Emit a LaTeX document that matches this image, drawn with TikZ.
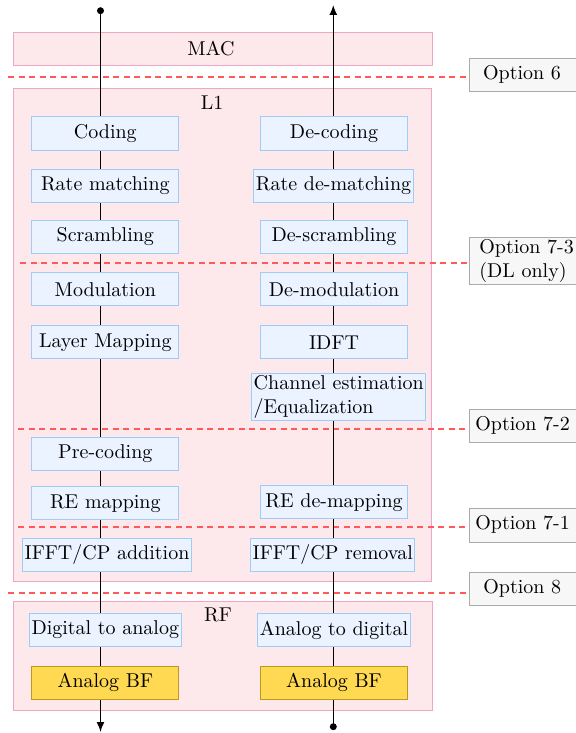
\documentclass[tikz,border=0pt]{standalone}
\usetikzlibrary{arrows.meta}
\definecolor{layerfill}{HTML}{FDE8EC}
\definecolor{layerline}{HTML}{EEA6C6}
\definecolor{blkfill}{HTML}{EAF3FF}
\definecolor{blkline}{HTML}{9ECCF6}
\definecolor{bffill}{HTML}{FFD952}
\definecolor{bfline}{HTML}{BE991C}
\definecolor{optfill}{HTML}{F7F7F7}
\definecolor{optline}{HTML}{ABABAB}
\definecolor{splitline}{HTML}{FF5A5A}
\tikzset{
  layerbox/.style={draw=layerline, fill=layerfill, line width=0.5pt, rectangle, inner sep=0pt},
  blk/.style={draw=blkline, fill=blkfill, line width=0.5pt, rectangle, inner sep=1pt,
              minimum width=73.5pt, minimum height=16.5pt, align=left},
  bfblk/.style={draw=bfline, fill=bffill, line width=0.5pt, rectangle,
              minimum width=73.5pt, minimum height=16.5pt},
  optbox/.style={draw=optline, fill=optfill, line width=0.5pt, rectangle, inner sep=0pt},
  opttext/.style={anchor=west, inner sep=0pt, align=left},
  split/.style={draw=splitline, dash pattern=on 3pt off 2.25pt, line width=1pt},
  flow/.style={draw=black, line width=0.75pt},
  dotend/.style={fill=black, circle, inner sep=0pt, minimum size=3.5pt},
}
\begin{document}
\begin{tikzpicture}[x=0.5pt, y=-0.5pt]
\useasboundingbox (0,0) rectangle (576,733);

% protocol layers
\node[layerbox, minimum width=209.5pt, minimum height=16.5pt] (mac) at (222.75,48.8) {};
\node (maclbl) at (211,48.8) {MAC};
\node[layerbox, minimum width=209pt, minimum height=246.7pt] (l1) at (222.5,335) {};
\node (l1lbl) at (212,103) {L1};
\node[layerbox, minimum width=209.5pt, minimum height=54.2pt] (rf) at (222.75,655.8) {};
\node (rflbl) at (218,614.5) {RF};

% split option labels
\node[optbox, minimum width=65pt, minimum height=16.5pt, anchor=north west] (o6) at (468.5,58.3) {};
\node[opttext] (o6t) at (482.7,74.8) {Option 6};
\node[optbox, minimum width=65pt, minimum height=23.5pt, anchor=north west] (o73) at (469,237.3) {};
\node[opttext] (o73t) at (479,260.8) {Option 7-3\\(DL only)};
\node[optbox, minimum width=65pt, minimum height=16.5pt, anchor=north west] (o72) at (469,409.3) {};
\node[opttext] (o72t) at (475,425.8) {Option 7-2};
\node[optbox, minimum width=65pt, minimum height=17pt, anchor=north west] (o71) at (469,507.5) {};
\node[opttext] (o71t) at (475,524.3) {Option 7-1};
\node[optbox, minimum width=65pt, minimum height=16.5pt, anchor=north west] (o8) at (469,572.3) {};
\node[opttext] (o8t) at (483,588.8) {Option 8};

% split lines, each running up to its option label
\coordinate (s6) at (8,77);
\coordinate (s73) at (20,263);
\coordinate (s72) at (18,429);
\coordinate (s71) at (18,527);
\coordinate (s8) at (8,593);
\draw[split] (s6) -- (s6 -| o6.west);
\draw[split] (s73) -- (s73 -| o73.west);
\draw[split] (s72) -- (s72 -| o72.west);
\draw[split] (s71) -- (s71 -| o71.west);
\draw[split] (s8) -- (s8 -| o8.west);

% downlink and uplink paths
\coordinate (dlin) at (100.5,10.7);
\coordinate (dlout) at (100.5,732);
\coordinate (ulin) at (333.3,726.7);
\coordinate (ulout) at (333.3,5);
\draw[flow, -{Latex[length=5pt,width=4pt]}] (dlin) -- (dlout);
\draw[flow, -{Latex[length=5pt,width=4pt]}] (ulin) -- (ulout);
\node[dotend] (dlindot) at (dlin) {};
\node[dotend] (ulindot) at (ulin) {};

% transmit chain
\node[blk] (cod) at (105.3,133.5) {Coding};
\node[blk] (rm) at (105.3,185.8) {Rate matching};
\node[blk] (scr) at (105.3,236.7) {Scrambling};
\node[blk] (mod) at (105.3,289.3) {Modulation};
\node[blk] (lm) at (105.3,342.3) {Layer Mapping};
\node[blk] (pre) at (105.3,454) {Pre-coding};
\node[blk] (rem) at (105.3,503.3) {RE mapping};
\node[blk] (ifft) at (107,554.5) {IFFT/CP addition};
\node[blk] (dac) at (105.3,630) {Digital to analog};
\node[bfblk] (bftx) at (105.3,682.7) {Analog BF};

% receive chain
\node[blk] (dec) at (334,133.5) {De-coding};
\node[blk] (rdm) at (333.5,185.8) {Rate de-matching};
\node[blk] (dscr) at (334,236.7) {De-scrambling};
\node[blk] (dmod) at (334,289.3) {De-modulation};
\node[blk] (idft) at (334,342.3) {IDFT};
\node[blk] (che) at (338.8,397.3) {Channel estimation\\/Equalization};
\node[blk] (rdmap) at (334,502.3) {RE de-mapping};
\node[blk] (fft) at (332.7,554.5) {IFFT/CP removal};
\node[blk] (adc) at (334,630) {Analog to digital};
\node[bfblk] (bfrx) at (334,682.7) {Analog BF};
\end{tikzpicture}
\end{document}
